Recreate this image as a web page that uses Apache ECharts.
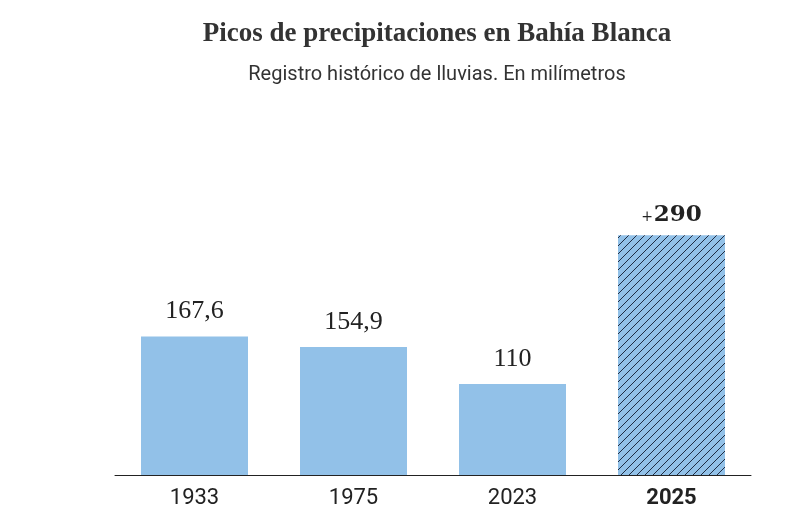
<!DOCTYPE html>
<html><head><meta charset="utf-8">
<script src="https://cdn.jsdelivr.net/npm/echarts@6/dist/echarts.min.js"></script>
<style>html,body{margin:0;padding:0;background:#fff}#c{width:805px;height:516px}</style>
</head><body><div id="c"></div>
<script>
const categories = ['1933', '1975', '2023', '2025'];
const values = [167.6, 154.9, 110, 290];
const highlightIndex = 3;

function hatch() {
  const s = 8, cv = document.createElement('canvas');
  cv.width = s; cv.height = s;
  const g = cv.getContext('2d');
  g.fillStyle = '#92c1e8'; g.fillRect(0, 0, s, s);
  g.strokeStyle = '#1f2d44'; g.lineWidth = 1;
  g.beginPath();
  g.moveTo(0, s); g.lineTo(s, 0);
  g.moveTo(-1, 1); g.lineTo(1, -1);
  g.moveTo(s - 1, s + 1); g.lineTo(s + 1, s - 1);
  g.stroke();
  return cv;
}
const pattern = hatch();

const chart = echarts.init(document.getElementById('c'), null, {renderer: 'canvas'});
chart.setOption({
  animation: false,
  title: {
    text: 'Picos de precipitaciones en Bahía Blanca',
    subtext: 'Registro histórico de lluvias. En milímetros',
    left: 437, textAlign: 'center', top: 21, itemGap: 17, padding: 0,
    textStyle: {fontFamily: 'Liberation Serif', fontWeight: 'bold', fontSize: 27, color: '#333'},
    subtextStyle: {fontFamily: 'Roboto', fontSize: 20, color: '#333'}
  },
  grid: {left: 115, right: 54, top: 227, bottom: 41},
  xAxis: {
    type: 'category', data: categories,
    axisLine: {lineStyle: {color: '#222', width: 1}},
    axisTick: {show: false},
    axisLabel: {
      margin: 12, fontFamily: 'Roboto', fontSize: 22, color: '#222',
      formatter: (v, i) => i === highlightIndex ? '{b|' + v + '}' : v,
      rich: {b: {fontFamily: 'Roboto', fontSize: 22, fontWeight: 'bold', color: '#222'}}
    }
  },
  yAxis: {type: 'value', min: 0, max: 300, show: false, splitLine: {show: false}},
  series: [{
    type: 'bar', barWidth: 107,
    data: values.map((v, i) => ({
      value: v,
      itemStyle: {color: i === highlightIndex ? {image: pattern, repeat: 'repeat'} : '#92c1e8'},
      label: i === highlightIndex ? {distance: 9} : undefined
    })),
    label: {
      show: true, position: 'top', distance: 12,
      fontFamily: 'Liberation Serif', fontSize: 26, color: '#222',
      formatter: p => p.dataIndex === highlightIndex
        ? '{p|+}{b|' + String(p.value).replace('.', ',') + '}'
        : String(p.value).replace('.', ','),
      rich: {
        p: {fontFamily: 'DejaVu Serif', fontSize: 14, color: '#222', padding: [6, 1, 0, 0]},
        b: {fontFamily: 'DejaVu Serif', fontSize: 23, fontWeight: 'bold', color: '#222'}
      }
    }
  }]
});
</script></body></html>
